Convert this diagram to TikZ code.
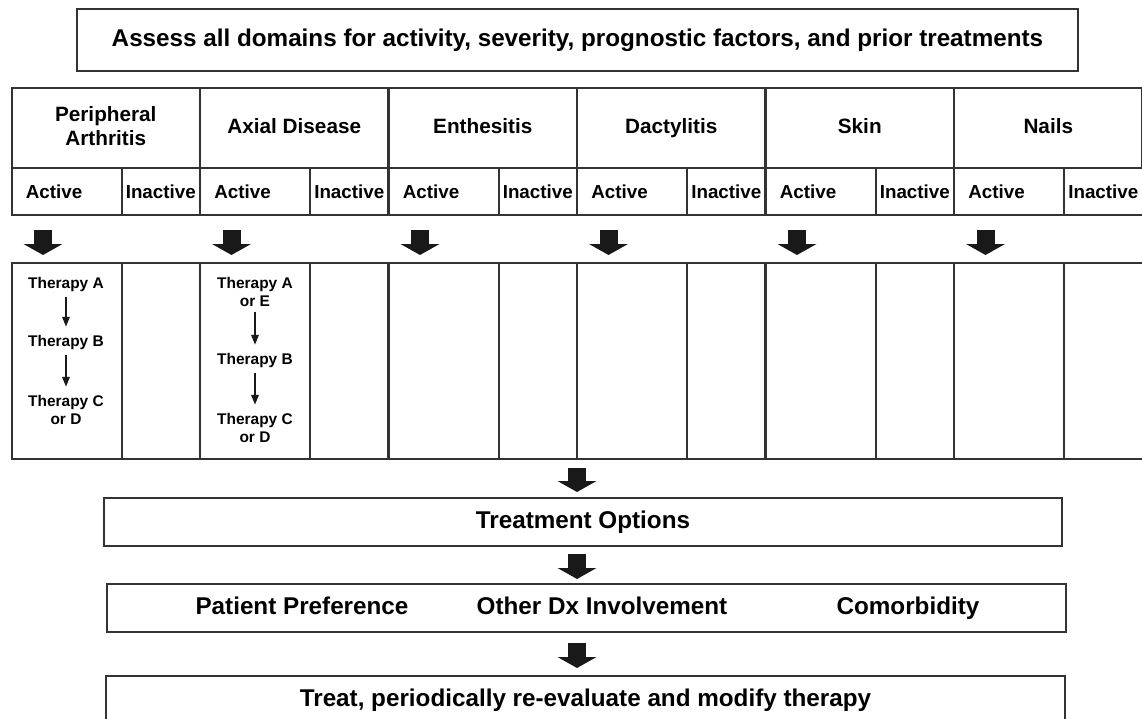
\documentclass[tikz,border=0pt]{standalone}
\usepackage{fontspec}
\setmainfont{Liberation Sans}
\usetikzlibrary{arrows.meta,positioning}

\tikzset{
  box/.style={draw=black!80, line width=0.9pt, inner sep=0pt,
    text height=0.72em, text depth=0pt,
    font=\bfseries\fontsize{13.8}{16}\selectfont},
  boxtext/.style={inner sep=0pt, text height=0.72em, text depth=0pt,
    font=\bfseries\fontsize{13.8}{16}\selectfont},
  domcell/.style={draw=black!80, line width=0.9pt, anchor=north west, align=center,
    minimum width=3.76cm, minimum height=1.6cm, inner sep=0pt, text depth=0.21em,
    font=\bfseries\fontsize{11.8}{13.7}\selectfont},
  actcell/.style={draw=black!80, line width=0.9pt, anchor=north west, align=left,
    minimum height=0.94cm, text width=1.64cm, inner xsep=0.28cm, inner ysep=0pt,
    font=\bfseries\fontsize{10.7}{12}\selectfont},
  inacell/.style={draw=black!80, line width=0.9pt, anchor=north west,
    minimum width=1.56cm, minimum height=0.94cm, inner sep=0pt,
    font=\bfseries\fontsize{10.7}{12}\selectfont},
  lowcell/.style={draw=black!80, line width=0.9pt, anchor=north west,
    minimum height=3.92cm, inner sep=0pt},
  therapy/.style={anchor=north, align=center, inner sep=0pt,
    font=\bfseries\fontsize{8.8}{10.3}\selectfont},
  blockarrow/.style={draw=black!90, line width=0.36cm,
    -{Triangle[width=0.78cm 0, length=0.22cm 0 0, line width=0pt]}},
  thinarrow/.style={draw=black!90, line width=0.7pt,
    -{Triangle[width=4.5pt 0, length=5.5pt 0 0, line width=0pt]},
    shorten <=2.5pt, shorten >=4.8pt},
}

\begin{document}
\begin{tikzpicture}[x=0.02cm, y=-0.02cm]
  \useasboundingbox (0,0) rectangle (1142,719);
  \clip (0,0) rectangle (1142,719);

  % assessment box
  \node[box, minimum width=20.02cm, minimum height=1.24cm] (assess) at (577.5,40)
    {Assess all domains for activity, severity, prognostic factors, and prior treatments};

  % domain table: header, active/inactive, therapy rows
  \foreach \dom [count=\i from 0] in {{Peripheral\\Arthritis},Axial Disease,Enthesitis,Dactylitis,Skin,Nails} {
    \pgfmathsetmacro{\xl}{11+188.5*\i}
    \node[domcell] (dom\i) at (\xl,87) {\dom};
    \node[actcell] (act\i) at (\xl,167) {Active};
    \node[inacell] (ina\i) at (\xl+110,167) {Inactive};
    \node[lowcell, minimum width=2.2cm] (lowa\i) at (\xl,262) {};
    \node[lowcell, minimum width=1.56cm] (lowi\i) at (\xl+110,262) {};
    % block arrow below each "Active"
    \coordinate (top\i) at (\xl+32,230);
    \coordinate (bot\i) at (\xl+32,255);
    \draw[blockarrow] (top\i) -- (bot\i);
  }

  % therapy sequences
  \node[therapy] (perA) at (66,277) {Therapy A};
  \node[therapy] (perB) at (66,335) {Therapy B};
  \node[therapy] (perC) at (66,395) {Therapy C\\or D};
  \draw[thinarrow] (perA) -- (perB);
  \draw[thinarrow] (perB) -- (perC);

  \node[therapy] (axA) at (255,277) {Therapy A\\or E};
  \node[therapy] (axB) at (255,353) {Therapy B};
  \node[therapy] (axC) at (255,413) {Therapy C\\or D};
  \draw[thinarrow] (axA) -- (axB);
  \draw[thinarrow] (axB) -- (axC);

  % lower boxes
  \node[box, minimum width=19.16cm, minimum height=0.96cm] (options) at (583,522) {Treatment Options};
  \node[box, minimum width=19.18cm, minimum height=0.96cm] (factors) at (586.5,608) {};
  \node[boxtext] (pref) at (302,608) {Patient Preference};
  \node[boxtext] (other) at (602,608) {Other Dx Involvement};
  \node[boxtext] (comorb) at (908,608) {Comorbidity};
  \node[box, minimum width=19.18cm, minimum height=0.96cm] (treat) at (585.5,700)
    {Treat, periodically re-evaluate and modify therapy};

  % arrows between lower boxes
  \coordinate (c1) at (577,468); \coordinate (d1) at (577,492);
  \coordinate (c2) at (577,554); \coordinate (d2) at (577,579);
  \coordinate (c3) at (577,643); \coordinate (d3) at (577,668);
  \draw[blockarrow] (c1) -- (d1);
  \draw[blockarrow] (c2) -- (d2);
  \draw[blockarrow] (c3) -- (d3);
\end{tikzpicture}
\end{document}
